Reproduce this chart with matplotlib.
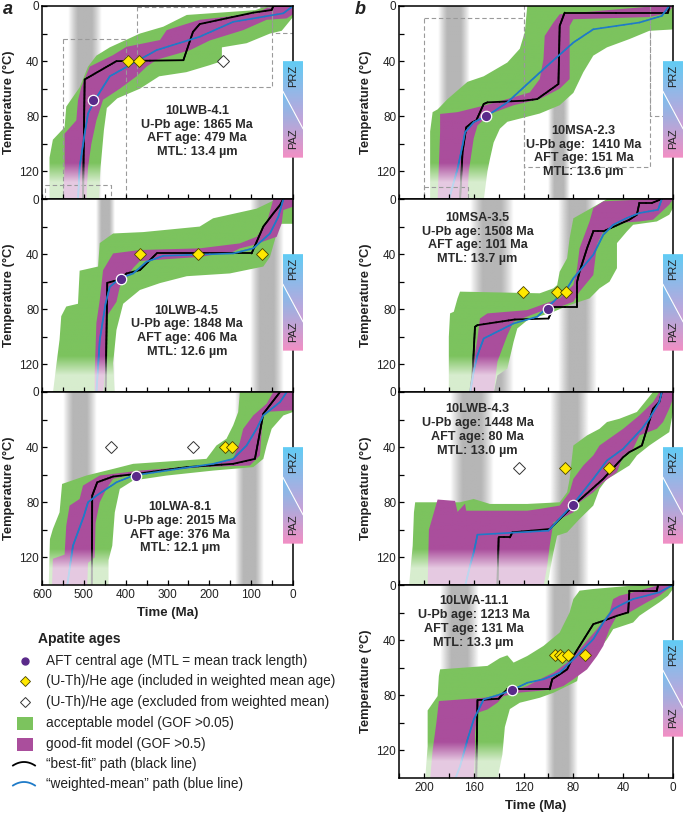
import numpy as np
import matplotlib
matplotlib.use('Agg')
import matplotlib.pyplot as plt
from matplotlib.patches import Polygon, Rectangle
from matplotlib.collections import LineCollection
from matplotlib.colors import to_rgb

plt.rcParams['font.family'] = ['Liberation Sans', 'DejaVu Sans']

# ---------------- DATA ----------------
# envelopes: lists of (time Ma, temperature C), top -> bottom
A1_ACC_YOUNG = [(0,0),(0,8),(27,18),(55,20),(111,27),(170,30),(170,40),(200,43),(255,48),(320,51),(366,60),(420,67),(445,74),(452,90),(460,117),(464,141)]
A1_ACC_OLD = [(63,0),(90,3),(254,6.5),(310,15),(366,20),(438,30),(470,36),(490,44),(510,59),(542,73),(546,88),(574,97),(582,110),(582,141)]
A1_GOOD_YOUNG = [(0,0),(0,6),(15,9),(63,10),(119,17.5),(199,25),(246,32),(326,39),(350,44),(374,51),(414,60),(454,68),(470,83),(482,100),(490,117),(494,141)]
A1_GOOD_OLD = [(55,0),(87,5.3),(223,10),(302,17.5),(318,24.7),(398,29.6),(430,35.6),(486,44),(506,58.7),(514,68.4),(518,83),(546,92.6),(546,117),(550,141)]
A1_BEST = [(0,0),(47,0),(51,2.9),(95,4.8),(223,13.1),(239,18.7),(262,39.3),(422,40),(498,53.3),(502,141)]
A1_WMEAN = [(0,0),(23,5.3),(143,11.5),(223,22.3),(326,32),(438,51),(474,68.4),(490,78),(498,92.6),(510,116.8),(514,141)]
A1_AFT = (477, 68)
A1_HE_IN = [(394,40),(368,40)]
A1_HE_OUT = [(168,40)]
A1_BANDS = [(538,457)]
A1_BOXES = [(550,400,24,150),(373,51,1,59),(593,435,130,150),(51,-5,-5,19.5)]
A1_LABEL = ("10LWB-4.1", "1865", "479", "13.4", 230, 91)

A2_ACC_YOUNG = [(0,0),(0,18),(31,18),(39,25),(55,42),(71,49),(151,54),(254,56),(318,61),(366,66),(406,76),(422,95),(430,119),(426,141)]
A2_ACC_OLD = [(39,0),(87,7),(191,14),(223,20),(358,24),(430,25),(462,32),(466,49),(510,52),(514,76),(542,78),(554,85),(558,102),(566,121),(574,141)]
A2_GOOD_YOUNG = [(0,0),(0,5.6),(23,8),(27,17.7),(39,27.4),(95,33.4),(127,35.8),(143,38.3),(223,42),(366,45),(382,50),(414,63.7),(422,74.6),(446,85.5),(446,114),(454,141)]
A2_GOOD_OLD = [(47,0),(63,17.7),(87,27.4),(127,32.2),(223,35.8),(366,37),(430,39.5),(454,51.6),(462,73.4),(470,90),(474,126),(474,141)]
A2_BEST = [(23,0),(31,4.4),(47,10.4),(71,20),(99,39.5),(326,39.5),(366,51.6),(398,54),(414,58.4),(444,60.8),(448,141)]
A2_WMEAN = [(23,0),(35,12.8),(55,25),(95,35.8),(143,39.5),(310,41.2),(350,45.5),(382,54),(414,57.6),(438,63.7),(448,75.8),(462,102.4),(470,141)]
A2_AFT = (412, 58)
A2_HE_IN = [(366,40),(227,40),(75,40)]
A2_HE_OUT = []
A2_BANDS = [(470,426),(103,23)]
A2_LABEL = ("10LWB-4.5", "1848", "406", "12.6", 254, 96)

A3_ACC_YOUNG = [(0,0),(0,14.5),(23,17),(51,26.7),(63,38.8),(71,48.5),(95,54.5),(191,57),(302,60.6),(382,64.2),(414,70.3),(426,87.3),(432,111.5),(441,122),(441,141)]
A3_ACC_OLD = [(127,0),(131,14.5),(143,24.2),(159,33.9),(183,38.8),(207,48.5),(382,52.1),(430,55.8),(494,60.6),(552,66.7),(558,87.3),(574,99.4),(581,106.7),(584,141)]
A3_GOOD_YOUNG = [(0,0),(0,13.3),(71,14.5),(75,29.1),(79,46),(103,53.3),(223,54.5),(382,59.4),(430,63),(446,70.3),(462,80),(472,95),(474,120),(490,124),(492,141)]
A3_GOOD_OLD = [(47,0),(63,8.5),(95,17),(119,26.7),(127,36.4),(143,48.5),(207,53.3),(366,57),(462,60.6),(502,67.9),(510,77.6),(534,82.4),(542,97),(546,118),(574,121),(576,141)]
A3_BEST = [(31,0),(71,15.8),(91,48.5),(143,52.1),(254,54.5),(374,59.4),(430,61.3),(468,65.5),(480,75.2),(481,141)]
A3_WMEAN = [(15,0),(31,7.3),(71,17),(87,26.7),(111,38.8),(143,48.5),(191,52.1),(302,57),(382,60.6),(422,65.5),(470,75.2),(490,80),(500,90),(526,111.5),(540,141)]
A3_AFT = (376, 61)
A3_HE_IN = [(162,40),(145,40)]
A3_HE_OUT = [(436,40),(240,40)]
A3_BANDS = [(550,470),(139,71)]
A3_LABEL = ("10LWA-8.1", "2015", "376", "12.1", 270, 98.5)

B1_ACC_YOUNG = [(0,0),(0,17),(19,18),(35,24),(53,30),(64,36),(72,48),(80,63),(91,72),(107,78),(133,84),(139,89),(144,99),(147,111),(149,120),(152,141)]
B1_ACC_OLD = [(117,0),(119,19),(123,31),(133,41),(152,51),(165,55),(181,67.5),(189,75),(193,77),(195,91),(195,141)]
B1_GOOD_YOUNG = [(0,0),(4,5),(19,8),(80,9.6),(83,14.5),(83,53),(91,60),(107,67.5),(128,72),(147,78.3),(157,86.7),(160,96),(164,120),(165,141)]
B1_GOOD_OLD = [(13,0),(91,6),(96,12),(103,21.7),(104,38.6),(107,53),(115,62.7),(133,67.5),(152,72.3),(173,77),(187,78.3),(187,91.6),(188,115.7),(189,141)]
B1_BEST = [(3,0),(4,4.8),(87,4.8),(91,14.5),(92,56.6),(109,67.5),(120,68.7),(149,69.9),(152,71.1),(158,83.1),(161,84.3),(166,88),(169,106),(171,141)]
B1_WMEAN = [(3,0),(9,7.2),(27,12),(64,16.9),(80,26.5),(101,43.4),(117,56.6),(133,69.9),(149,79.5),(160,84.3),(167,91.6),(169,101.2),(173,118.1),(176,127.7),(180,141)]
B1_AFT = (150, 80)
B1_HE_IN = []
B1_HE_OUT = []
B1_BANDS = [(189,164),(100,83)]
B1_BOXES = [(200,120,9,150),(120,18.7,-5,117),(18.7,-5,-5,80),(200,165,131,150)]
B1_LABEL = ("10MSA-2.3", " 1410", "151", "13.6", 72, 105.5)

B2_ACC_YOUNG = [(0,0),(0,6.6),(3,11.4),(13,16.3),(32,18.7),(37,23.5),(45,32),(45,50.2),(51,60),(59,64.8),(67,72.1),(83,76.9),(96,81.8),(117,88),(125,93.9),(128,103.6),(133,123),(141,128),(144,141)]
B2_ACC_OLD = [(53,0),(56,1.7),(80,14),(83,28.4),(85,43),(91,52.7),(93,62.4),(96,64.8),(107,68.4),(171,67.2),(173,72.1),(176,81.8),(179,83),(180,100),(180,141)]
B2_GOOD_YOUNG = [(0,0),(3,4.1),(16,15),(27,16.3),(45,17.5),(56,23.5),(61,33),(64,55.1),(75,67.2),(80,74.5),(93,79),(107,81.8),(128,89),(133,98.8),(141,118),(144,141)]
B2_GOOD_OLD = [(16,0),(56,1.7),(64,6.6),(67,16.3),(75,35.7),(77,50.2),(80,62.4),(91,72.1),(117,80.6),(149,83),(155,86.7),(157,101.2),(160,118),(163,141)]
B2_BEST = [(9,0),(17,2.9),(27,2.9),(29,11.4),(35,15),(56,23.5),(64,23.5),(69,35.7),(75,52.7),(77,60),(77,78.6),(96,78.6),(100,86.7),(127,87.4),(157,91.5),(159,92.7),(161,128),(163,141)]
B2_WMEAN = [(9,0),(12,7.8),(27,10.2),(37,13.8),(48,18.7),(56,26),(64,40.5),(80,57.5),(85,64.8),(96,74.5),(109,85.4),(128,90.3),(152,101.2),(157,113.3),(160,125),(163,141)]
B2_AFT = (100, 80)
B2_HE_IN = [(120.5,67.7),(93,67.7),(86,67.7)]
B2_HE_OUT = []
B2_BANDS = [(163,128),(92,61)]
B2_LABEL = ("10MSA-3.5", "1508", "101", "13.7", 157, 28.7)

B3_ACC_YOUNG = [(0,0),(0,14.5),(3,29.1),(11,33.9),(19,38.8),(29,46),(35,53.3),(48,60.6),(53,63),(59,70.3),(64,82.4),(75,92.1),(85,101.8),(93,104.2),(96,116.4),(99,130.9),(101,141)]
B3_ACC_OLD = [(16,0),(29,14.5),(43,19.4),(53,21.8),(59,26.7),(69,31.5),(80,38.8),(83,63),(85,72.7),(91,80),(117,81.2),(147,81.2),(160,77.6),(171,80),(207,80),(208,87.3),(209,111.5),(212,141)]
B3_GOOD_YOUNG = [(0,0),(0,4.8),(3,12.1),(8,21.8),(13,26.7),(27,31.5),(32,41.2),(40,46),(45,58.2),(56,65.5),(64,72.7),(75,80),(80,87.3),(96,94.5),(99,111.5),(101,126.1),(104,141)]
B3_GOOD_OLD = [(11,0),(16,7.3),(27,17),(40,26.7),(59,38.8),(64,46),(72,53.3),(80,63),(83,72.7),(91,82.4),(107,84.8),(117,86.1),(166,86.1),(167,81),(173,87),(175,79),(189,78),(196,100),(197,141)]
B3_BEST = [(9,0),(11,7.3),(16,12.1),(25,38.8),(35,43.6),(40,47.3),(56,63),(80,82.4),(99,99.4),(129,101.8),(131,105.5),(140,105.5),(141,141)]
B3_WMEAN = [(9,0),(11,7.3),(19,19.4),(25,26.7),(40,41.2),(53,49.7),(64,63),(80,81.2),(100,100.6),(157,103.5),(160,116.4),(163,126.1),(167,141)]
B3_AFT = (80, 82)
B3_HE_IN = [(86.4,55.3),(51.2,55.3)]
B3_HE_OUT = [(124,55.3)]
B3_BANDS = [(179,144),(99,68)]
B3_LABEL = ("10LWB-4.3", "1448", "80", "13.0", 157, 27.5)

B4_ACC_YOUNG = [(0,0),(0,2.9),(4,7.8),(11,12.6),(27,22.3),(32,27.2),(48,32),(53,39.3),(59,46.6),(67,53.9),(75,61.2),(77,69.7),(96,78.2),(107,81.8),(123,85.4),(131,90),(135,103),(137,123),(141,141)]
B4_ACC_OLD = [(27,0),(64,2.9),(75,4.1),(80,10.2),(83,19.9),(91,34.5),(104,44.2),(117,51.5),(128,56.3),(133,51),(139,53),(149,58.7),(187,61.2),(188,66),(189,80.6),(197,91),(197,117),(199,141)]
B4_GOOD_YOUNG = [(0,0),(4,2.9),(11,7.8),(21,12.6),(35,19.9),(45,22.3),(51,32),(56,44.2),(61,51.5),(69,61.2),(80,68.4),(88,73.3),(96,75.7),(109,76.9),(125,78.2),(136,80.6),(141,85.4),(149,90.3),(157,92.7),(159,107.3),(159,121.8),(160,141)]
B4_GOOD_OLD = [(11,0),(32,5.3),(43,7.8),(48,10.2),(51,19.9),(61,32),(75,46.6),(85,56.3),(96,63.6),(107,68.4),(117,73.3),(133,78.2),(144,80.6),(152,81.8),(188,84.2),(190,100),(193,120),(195,141)]
B4_BEST = [(12,0),(13,4.1),(35,4.1),(36,19.9),(45,22.3),(56,26),(64,28.4),(80,51.5),(85,61.2),(97,68.4),(99,75.7),(133,75.7),(136,78.2),(137,79.4),(140,82.5),(157,83.5),(158,141)]
B4_WMEAN = [(0,0),(11,5.3),(32,10.2),(43,15),(48,17.5),(56,27.2),(64,39.3),(80,53.9),(91,63.6),(104,68.4),(117,70.9),(128,75.7),(139,79.4),(152,83),(160,97.6),(165,112.1),(171,131.6),(175,141)]
B4_AFT = (129, 76)
B4_HE_IN = [(95,51),(91,51),(89,52),(84,51),(71,51)]
B4_HE_OUT = []
B4_BANDS = [(187,156),(103,77)]
B4_LABEL = ("10LWA-11.1", "1213", "131", "13.3", 160, 26.7)

A_TICKS = [600, 500, 400, 300, 200, 100, 0]
B_TICKS = [200, 160, 120, 80, 40, 0]
T_TICKS = [0, 40, 80, 120]

LEGEND_LABELS = ["AFT central age (MTL = mean track length)",
                 "(U-Th)/He age (included in weighted mean age)",
                 "(U-Th)/He age (excluded from weighted mean)",
                 "acceptable model (GOF >0.05)",
                 "good-fit model (GOF >0.5)",
                 "\u201cbest-fit\u201d path (black line)",
                 "\u201cweighted-mean\u201d path (blue line)"]

# ---------------- STYLE ----------------
GREEN = '#7CC35E'
MAGENTA = '#AA4E9C'
BLUE = '#1F7BC8'
PURPLE = '#5A2A8A'
YELLOW = '#FFE800'
TXT = '#222222'

W, H = 685, 814
fig = plt.figure(figsize=(W/100, H/100), dpi=100)


def add_ax(left, top, width, height):
    return fig.add_axes([left/W, 1-(top+height)/H, width/W, height/H])


def fade_frac(T):
    return np.clip((np.asarray(T, float) - 114.0)/14.0, 0, 1)*0.7


def gray_band(ax, t_old, t_young):
    n = 80
    u = np.linspace(0, 1, n)
    prof = np.clip(np.sin(np.pi*u)*1.25, 0, 1)
    rgba = np.zeros((1, n, 4))
    rgba[..., :3] = 0.6
    rgba[..., 3] = 0.72*prof
    ax.imshow(rgba, extent=[t_old, t_young, 140, 0], aspect='auto',
              interpolation='bilinear', zorder=0.5)


def envelope(ax, young, old, color, z, xmax):
    pts = list(young) + list(reversed(old))
    poly = Polygon(pts, closed=True, facecolor='none', edgecolor='none', zorder=z)
    ax.add_patch(poly)
    n = 281
    Tv = np.linspace(0, 140, n)
    f = fade_frac(Tv)[:, None]
    rgb = np.array(to_rgb(color))[None, :]
    img = np.ones((n, 1, 4))
    img[:, 0, :3] = rgb*(1-f) + f
    im = ax.imshow(img, extent=[xmax+10, -10, 140, 0], aspect='auto', origin='upper',
                   interpolation='bilinear', zorder=z)
    im.set_clip_path(poly)


def faded_line(ax, pts, color, lw, z):
    t = np.array([p[0] for p in pts], float)
    T = np.array([p[1] for p in pts], float)
    ts, Ts = [], []
    for i in range(len(t)-1):
        k = int(max(abs(T[i+1]-T[i]), 0)) + 2
        s = np.linspace(0, 1, k, endpoint=False)
        ts.extend(t[i] + (t[i+1]-t[i])*s)
        Ts.extend(T[i] + (T[i+1]-T[i])*s)
    ts.append(t[-1]); Ts.append(T[-1])
    ts = np.array(ts); Ts = np.array(Ts)
    segs = np.stack([np.column_stack([ts[:-1], Ts[:-1]]),
                     np.column_stack([ts[1:], Ts[1:]])], axis=1)
    f = fade_frac((Ts[:-1]+Ts[1:])/2)[:, None]
    rgb = np.array(to_rgb(color))[None, :]
    cols = rgb*(1-f) + f
    lc = LineCollection(segs, colors=cols, linewidths=lw, zorder=z, capstyle='round',
                        joinstyle='round')
    ax.add_collection(lc)


def prz_box(ax, frac_w):
    ins = ax.inset_axes([1-frac_w/2, 30/140, frac_w, 70/140], zorder=12)
    ins.axis('off')
    n = 100
    c1 = np.array([0.38, 0.80, 0.96]); c2 = np.array([0.82, 0.62, 0.84])
    s = np.linspace(0, 1, n)[:, None]
    img = np.ones((n, 1, 4)); img[:, 0, :3] = c1*(1-s) + c2*s
    p1 = Polygon([[0, 40], [1, 40], [1, 89], [0, 62]], closed=True, transform=ins.transData,
                 facecolor='none', edgecolor='none')
    ins.add_patch(p1)
    im = ins.imshow(img, extent=[0, 1, 89, 40], aspect='auto', origin='upper')
    im.set_clip_path(p1)
    c3 = np.array([0.45, 0.76, 0.94]); c4 = np.array([0.95, 0.56, 0.77])
    img2 = np.ones((n, 1, 4)); img2[:, 0, :3] = c3*(1-s) + c4*s
    p2 = Polygon([[0, 62], [1, 89], [1, 110], [0, 110]], closed=True, transform=ins.transData,
                 facecolor='none', edgecolor='none')
    ins.add_patch(p2)
    im2 = ins.imshow(img2, extent=[0, 1, 110, 62], aspect='auto', origin='upper')
    im2.set_clip_path(p2)
    ins.set_xlim(0, 1); ins.set_ylim(110, 40)
    ins.plot([0, 1], [62, 89], color='white', lw=0.8)
    ins.text(0.5, 51, 'PRZ', rotation=90, ha='center', va='center', fontsize=8, color=TXT)
    ins.text(0.5, 96, 'PAZ', rotation=90, ha='center', va='center', fontsize=8, color=TXT)


def draw_panel(ax, xmax, width_px, acc_y, acc_o, good_y, good_o, best, wmean, aft,
               he_in, he_out, bands, label, boxes, ticks, minor_step, bottom):
    for b in bands:
        gray_band(ax, *b)
    envelope(ax, acc_y, acc_o, GREEN, 1, xmax)
    envelope(ax, good_y, good_o, MAGENTA, 2, xmax)
    for (t0, t1, T0, T1) in boxes:
        ax.plot([t0, t1, t1, t0, t0], [T0, T0, T1, T1, T0], color='#9a9a9a',
                lw=0.8, ls=(0, (4, 2.5)), zorder=2.5)
    faded_line(ax, best, 'black', 1.3, 3)
    faded_line(ax, wmean, BLUE, 1.2, 3.1)
    ax.plot([aft[0]], [aft[1]], 'o', ms=7.5, mfc=PURPLE, mec='white', mew=0.9, zorder=4)
    for (t, T) in he_in:
        ax.plot([t], [T], 'D', ms=6.3, mfc=YELLOW, mec='#4a4400', mew=0.6, zorder=4)
    for (t, T) in he_out:
        ax.plot([t], [T], 'D', ms=6.3, mfc='white', mec='#333333', mew=0.7, zorder=4)
    name, upb, aftage, mtl, tx, Ty = label
    ax.text(tx, Ty, f"{name}\nU-Pb age: {upb} Ma\nAFT age: {aftage} Ma\nMTL: {mtl} \u00b5m",
            ha='center', va='center', fontsize=9.1, fontweight='bold', color='#2a2a2a',
            linespacing=1.2, zorder=7)
    ax.set_xlim(xmax, 0)
    ax.set_ylim(140, 0)
    ax.set_xticks(ticks)
    ax.set_xticks(np.arange(0, xmax+1, minor_step), minor=True)
    ax.set_yticks(T_TICKS)
    ax.set_yticks([20, 60, 100], minor=True)
    ax.tick_params(axis='both', which='both', direction='in', length=3.5, width=0.9,
                   labelsize=8.5, pad=2, colors='black', labelcolor=TXT)
    ax.tick_params(axis='x', labelbottom=bottom, pad=3)
    for sp in ax.spines.values():
        sp.set_linewidth(1.1)
        sp.set_zorder(10)
    ax.xaxis.set_zorder(11)
    ax.yaxis.set_zorder(11)
    ax.set_ylabel('Temperature (\u00b0C)', fontsize=9.3, fontweight='bold', color=TXT)
    ax.yaxis.set_label_coords(-27/width_px, 0.5)
    if bottom:
        ax.set_xlabel('Time (Ma)', fontsize=9.5, fontweight='bold', color=TXT, labelpad=4)
    prz_box(ax, 20/width_px)


PH = 193
a_panels = [
    (A1_ACC_YOUNG, A1_ACC_OLD, A1_GOOD_YOUNG, A1_GOOD_OLD, A1_BEST, A1_WMEAN, A1_AFT, A1_HE_IN, A1_HE_OUT, A1_BANDS, A1_LABEL, A1_BOXES),
    (A2_ACC_YOUNG, A2_ACC_OLD, A2_GOOD_YOUNG, A2_GOOD_OLD, A2_BEST, A2_WMEAN, A2_AFT, A2_HE_IN, A2_HE_OUT, A2_BANDS, A2_LABEL, []),
    (A3_ACC_YOUNG, A3_ACC_OLD, A3_GOOD_YOUNG, A3_GOOD_OLD, A3_BEST, A3_WMEAN, A3_AFT, A3_HE_IN, A3_HE_OUT, A3_BANDS, A3_LABEL, []),
]
b_panels = [
    (B1_ACC_YOUNG, B1_ACC_OLD, B1_GOOD_YOUNG, B1_GOOD_OLD, B1_BEST, B1_WMEAN, B1_AFT, B1_HE_IN, B1_HE_OUT, B1_BANDS, B1_LABEL, B1_BOXES),
    (B2_ACC_YOUNG, B2_ACC_OLD, B2_GOOD_YOUNG, B2_GOOD_OLD, B2_BEST, B2_WMEAN, B2_AFT, B2_HE_IN, B2_HE_OUT, B2_BANDS, B2_LABEL, []),
    (B3_ACC_YOUNG, B3_ACC_OLD, B3_GOOD_YOUNG, B3_GOOD_OLD, B3_BEST, B3_WMEAN, B3_AFT, B3_HE_IN, B3_HE_OUT, B3_BANDS, B3_LABEL, []),
    (B4_ACC_YOUNG, B4_ACC_OLD, B4_GOOD_YOUNG, B4_GOOD_OLD, B4_BEST, B4_WMEAN, B4_AFT, B4_HE_IN, B4_HE_OUT, B4_BANDS, B4_LABEL, []),
]

for i, p in enumerate(a_panels):
    ax = add_ax(42, 6 + i*PH, 251, PH)
    draw_panel(ax, 600, 251, *p[:10], p[10], p[11], A_TICKS, 50, i == len(a_panels)-1)

for i, p in enumerate(b_panels):
    ax = add_ax(399, 6 + i*PH, 274, PH)
    draw_panel(ax, 220, 274, *p[:10], p[10], p[11], B_TICKS, 20, i == len(b_panels)-1)

fig.text(3/W, 1-9/H, 'a', fontsize=13, fontweight='bold', style='italic', va='center', color=TXT)
fig.text(355/W, 1-9/H, 'b', fontsize=13, fontweight='bold', style='italic', va='center', color=TXT)

# ---------------- LEGEND ----------------
lg = fig.add_axes([0, 0, 340/W, 200/H])
lg.set_xlim(0, 340); lg.set_ylim(200, 0); lg.axis('off')
lg.text(38, 25, 'Apatite ages', fontsize=10, fontweight='bold', va='center', color=TXT)
ys = [47, 67, 88, 109, 130, 150, 170]
for y, lab in zip(ys, LEGEND_LABELS):
    lg.text(46, y, lab, fontsize=9.8, va='center', color=TXT)
lg.plot([25], [ys[0]], 'o', ms=5, mfc=PURPLE, mec=PURPLE)
lg.plot([25], [ys[1]], 'D', ms=5.5, mfc=YELLOW, mec='#4a4400', mew=0.6)
lg.plot([25], [ys[2]], 'D', ms=5.5, mfc='white', mec='#333333', mew=0.7)
lg.add_patch(Rectangle((17, ys[3]-6.5), 16, 13, facecolor=GREEN, edgecolor='none'))
lg.add_patch(Rectangle((17, ys[4]-6.5), 16, 13, facecolor=MAGENTA, edgecolor='none'))
xs = np.linspace(-1, 1, 30)
lg.plot(24 + 11*xs, ys[5] + 1.5 - 3.5*(1 - xs**2), color='black', lw=1.3)
lg.plot(24 + 11*xs, ys[6] + 1.5 - 3.5*(1 - xs**2), color=BLUE, lw=1.3)

fig.savefig('out.png', dpi=100)
